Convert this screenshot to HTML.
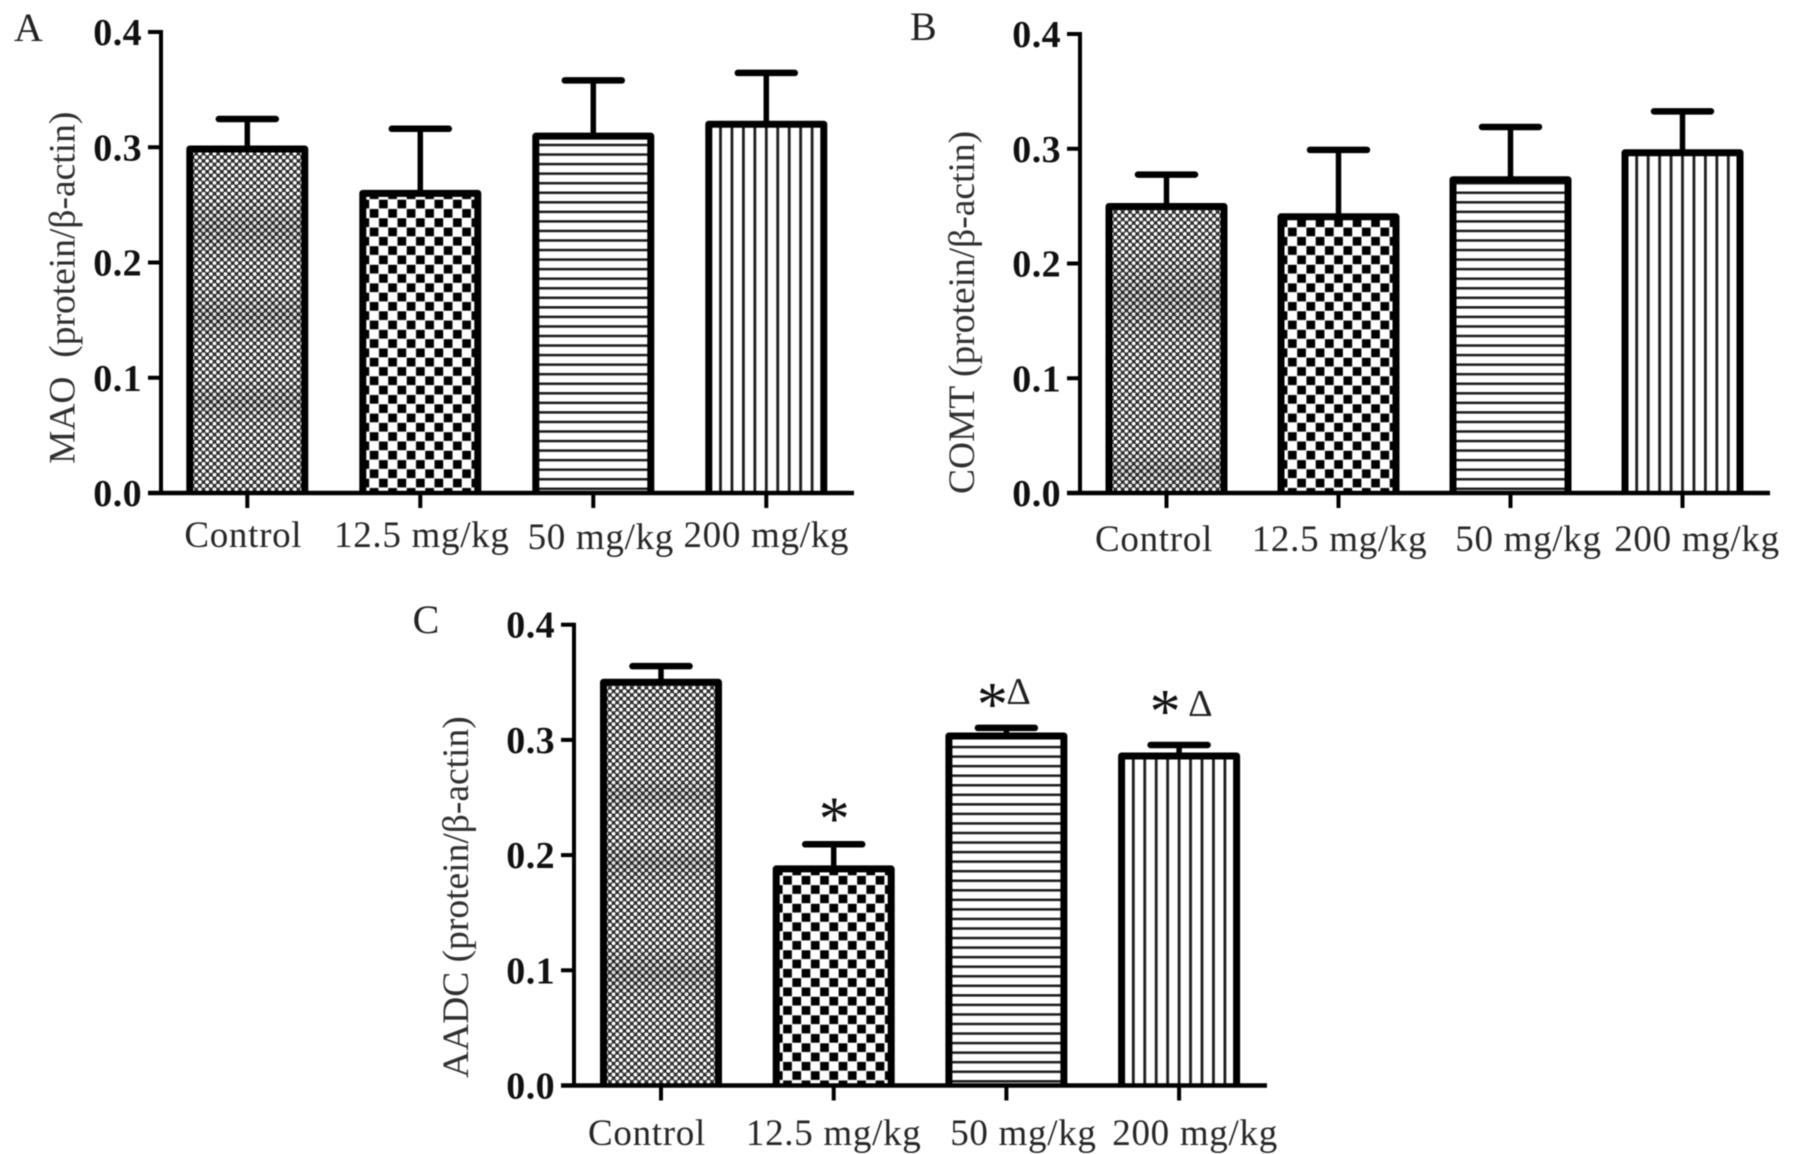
<!DOCTYPE html>
<html lang="en">
<head>
<meta charset="utf-8">
<title>MAO, COMT and AADC expression bar charts</title>
<style>
  html, body { margin: 0; padding: 0; background: #fff; width: 1795px; height: 1154px; overflow: hidden; }
  svg { display: block; filter: blur(0.6px); }
  text { font-family: "Liberation Serif", "DejaVu Serif", serif; }
  .tick-text { font-size: 38px; font-weight: bold; letter-spacing: 0.4px; fill: #111; }
  .cat-text { font-size: 37px; letter-spacing: 0.7px; fill: #262626; }
  .title-text { font-size: 37.5px; fill: #303030; }
  .panel-text { font-size: 40px; fill: #222; }
</style>
</head>
<body>
<svg id="figure" xmlns="http://www.w3.org/2000/svg" width="1795" height="1154" viewBox="0 0 1795 1154">
  <defs id="defs"></defs>
  <rect width="1795" height="1154" fill="#fff"></rect>
</svg>
<script>
const categories = ['Control', '12.5 mg/kg', '50 mg/kg', '200 mg/kg'];
const tickValues = [0, 0.1, 0.2, 0.3, 0.4];
const tickLabels = ['0.0', '0.1', '0.2', '0.3', '0.4'];
const maoValues = [0.2985, 0.26, 0.3096, 0.32];
const maoErrorTops = [0.3245, 0.316, 0.358, 0.3645];
const comtValues = [0.2497, 0.2407, 0.273, 0.2965];
const comtErrorTops = [0.2775, 0.299, 0.319, 0.3326];
const aadcValues = [0.35, 0.188, 0.3034, 0.286];
const aadcErrorTops = [0.364, 0.2094, 0.3104, 0.2956];
const aadcStars = ['', '*', '*', '*'];
const aadcDeltas = ['', '', '\u0394', '\u0394'];

const SVG_NS = 'http://www.w3.org/2000/svg';
const figure = document.getElementById('figure');
const defs = document.getElementById('defs');

function make(tag, attrs, parent) {
  const el = document.createElementNS(SVG_NS, tag);
  for (const k in attrs) el.setAttribute(k, attrs[k]);
  (parent || figure).appendChild(el);
  return el;
}

function makeDots(id, cx, base) {
  const p = make('pattern', { id: id, patternUnits: 'userSpaceOnUse', width: 7.3, height: 7.3, patternTransform: 'translate(' + (cx - 1.8) + ',' + (base - 1.8) + ')' }, defs);
  make('rect', { width: 7.3, height: 7.3, fill: '#2c2c2c' }, p);
  make('circle', { cx: 1.825, cy: 1.825, r: 1.95, fill: '#fff' }, p);
  make('circle', { cx: 5.475, cy: 5.475, r: 1.95, fill: '#fff' }, p);
}

function makeCheck(id, cx, base) {
  const p = make('pattern', { id: id, patternUnits: 'userSpaceOnUse', width: 18.5, height: 18.6, patternTransform: 'translate(' + (cx - 4.6) + ',' + (base - 14.6) + ')' }, defs);
  make('rect', { width: 18.5, height: 18.6, fill: '#fff' }, p);
  make('rect', { x: 0.3, y: 0.3, width: 8.7, height: 8.7, fill: '#000' }, p);
  make('rect', { x: 9.55, y: 9.6, width: 8.7, height: 8.7, fill: '#000' }, p);
}

function makeHoriz(id, base) {
  const p = make('pattern', { id: id, patternUnits: 'userSpaceOnUse', width: 20, height: 9.55, patternTransform: 'translate(0,' + (base - 349.25) + ')' }, defs);
  make('rect', { width: 20, height: 9.55, fill: '#fff' }, p);
  make('rect', { width: 20, height: 2.5, fill: '#1c1c1c' }, p);
}

function makeVert(id, cx) {
  const p = make('pattern', { id: id, patternUnits: 'userSpaceOnUse', width: 11.45, height: 20, patternTransform: 'translate(' + (cx - 1.4) + ',0)' }, defs);
  make('rect', { width: 11.45, height: 20, fill: '#fff' }, p);
  make('rect', { width: 2.8, height: 20, fill: '#1c1c1c' }, p);
}

function drawPanel(cfg) {
  const g = make('g', {});
  
  

  const yScale = v => cfg.base - (v / 0.4) * (cfg.base - cfg.top);
  const xScale = i => cfg.firstX + i * cfg.step;

  const letter = make('text', { x: cfg.letterX, y: cfg.letterY, class: 'panel-text' }, g);
  letter.textContent = cfg.letter;
  
  

  const title = make('text', { transform: 'translate(' + cfg.titleX + ',' + cfg.titleY + ') rotate(-90)', class: 'title-text' }, g);
  title.textContent = cfg.title;
  title.style.whiteSpace = 'pre';
  
  

  cfg.values.forEach((value, i) => {
    const cx = xScale(i);
    const yTop = yScale(value);
    const yErr = yScale(cfg.errors[i]);
    const id = cfg.key + '-fill-' + i;
    if (i === 0) {
      makeDots(id, cx, cfg.base);
    } else if (i === 1) {
      makeCheck(id, cx, cfg.base);
    } else if (i === 2) {
      makeHoriz(id, cfg.base);
    } else {
      makeVert(id, cx);
    }

    const stem = make('line', { x1: cx, x2: cx, y1: yTop, y2: yErr, stroke: '#000', 'stroke-width': 5.5 }, g);
    
    

    const cap = make('line', { x1: cx - 28.5, x2: cx + 28.5, y1: yErr, y2: yErr, stroke: '#000', 'stroke-width': 6.5, 'stroke-linecap': 'round' }, g);
    
    

    const bar = make('rect', { x: cx - 57.5, y: yTop, width: 115, height: cfg.base - yTop, fill: 'url(#' + id + ')' }, g);
    
    

    if (i === 0) {
      cfg.bands.forEach((band, b) => {
        const gid = cfg.key + '-band-' + b;
        const grad = make('linearGradient', { id: gid, gradientUnits: 'userSpaceOnUse', x1: 0, x2: 0, y1: band[0], y2: band[1] }, defs);
        make('stop', { offset: 0, 'stop-color': '#000', 'stop-opacity': 0 }, grad);
        make('stop', { offset: 0.5, 'stop-color': '#000', 'stop-opacity': 0.13 }, grad);
        make('stop', { offset: 1, 'stop-color': '#000', 'stop-opacity': 0 }, grad);
        const shade = make('rect', { x: cx - 55, y: band[0], width: 110, height: band[1] - band[0], fill: 'url(#' + gid + ')' }, g);
        
        
      });
    }

    const outline = make('path', { d: 'M' + (cx - 57.5) + ' ' + cfg.base + 'V' + yTop + 'H' + (cx + 57.5) + 'V' + cfg.base, fill: 'none', stroke: '#000', 'stroke-width': 7, 'stroke-linejoin': 'round' }, g);
    
    

    const tick = make('line', { x1: cx, x2: cx, y1: cfg.base, y2: cfg.base + 15, stroke: '#000', 'stroke-width': 4 }, g);
    
    

    const label = make('text', { x: cx + cfg.labelNudge[i], y: cfg.labelY + (cfg.labelDrop ? cfg.labelDrop[i] : 0), 'text-anchor': 'middle', class: 'cat-text' }, g);
    label.textContent = categories[i];
    
    
  });

  const yAxis = make('line', { x1: cfg.axisX, x2: cfg.axisX, y1: cfg.top - 2, y2: cfg.base, stroke: '#000', 'stroke-width': 4 }, g);
  
  

  const xAxis = make('line', { x1: cfg.axisX - 13, x2: cfg.axisEnd, y1: cfg.base, y2: cfg.base, stroke: '#000', 'stroke-width': 4.5 }, g);
  
  

  tickValues.forEach((v, i) => {
    const y = yScale(v);
    const t = make('line', { x1: cfg.axisX - 13, x2: cfg.axisX, y1: y, y2: y, stroke: '#000', 'stroke-width': 4 }, g);
    
    

    const l = make('text', { x: cfg.axisX - 19, y: y + 13, 'text-anchor': 'end', class: 'tick-text' }, g);
    l.textContent = tickLabels[i];
    
    
  });

  if (cfg.stars) {
    cfg.stars.forEach((s, i) => {
      if (!s) return;
      const star = make('text', { x: xScale(i) + cfg.starDx[i], y: yScale(cfg.errors[i]) + cfg.starDy[i], 'text-anchor': 'middle', fill: '#111', 'font-size': 62 }, g);
      star.textContent = s;
      
      
    });
    cfg.deltas.forEach((s, i) => {
      if (!s) return;
      const delta = make('text', { x: xScale(i) + cfg.deltaDx[i], y: yScale(cfg.errors[i]) + cfg.deltaDy[i], fill: '#222', 'font-size': 38 }, g);
      delta.textContent = s;
      
      
    });
  }
}

drawPanel({
  key: 'mao', letter: 'A', title: 'MAO  (protein/\u03B2-actin)',
  values: maoValues, errors: maoErrorTops,
  base: 493, top: 32, axisX: 161, axisEnd: 854, firstX: 247.3, step: 173,
  letterX: 14, letterY: 41, titleX: 74.6, titleY: 464,
  labelY: 547, labelNudge: [-4, 1.5, 7.5, 0], labelDrop: [0, 0, 2, 0],
  bands: [[195, 262], [285, 345], [378, 425]]
});

drawPanel({
  key: 'comt', letter: 'B', title: 'COMT (protein/\u03B2-actin)',
  values: comtValues, errors: comtErrorTops,
  base: 493, top: 34, axisX: 1080, axisEnd: 1770, firstX: 1166.5, step: 172,
  letterX: 910, letterY: 40, titleX: 974, titleY: 494,
  labelY: 551, labelNudge: [-12.5, 1, 18, 14.5],
  bands: [[250, 345], [448, 493]]
});

drawPanel({
  key: 'aadc', letter: 'C', title: 'AADC (protein/\u03B2-actin)',
  values: aadcValues, errors: aadcErrorTops,
  base: 1085.5, top: 624.7, axisX: 574, axisEnd: 1267, firstX: 661, step: 172.7,
  letterX: 412.6, letterY: 633, titleX: 468, titleY: 1078,
  labelY: 1145, labelNudge: [-14, 0, 17, 16],
  stars: aadcStars, deltas: aadcDeltas,
  starDx: [0, 0.5, -14, -14], starDy: [0, -4.7, -3, -13],
  deltaDx: [0, 0, 0, 9], deltaDy: [0, 0, -24, -29],
  bands: [[775, 815], [840, 885], [945, 1000]]
});
</script>
</body>
</html>
